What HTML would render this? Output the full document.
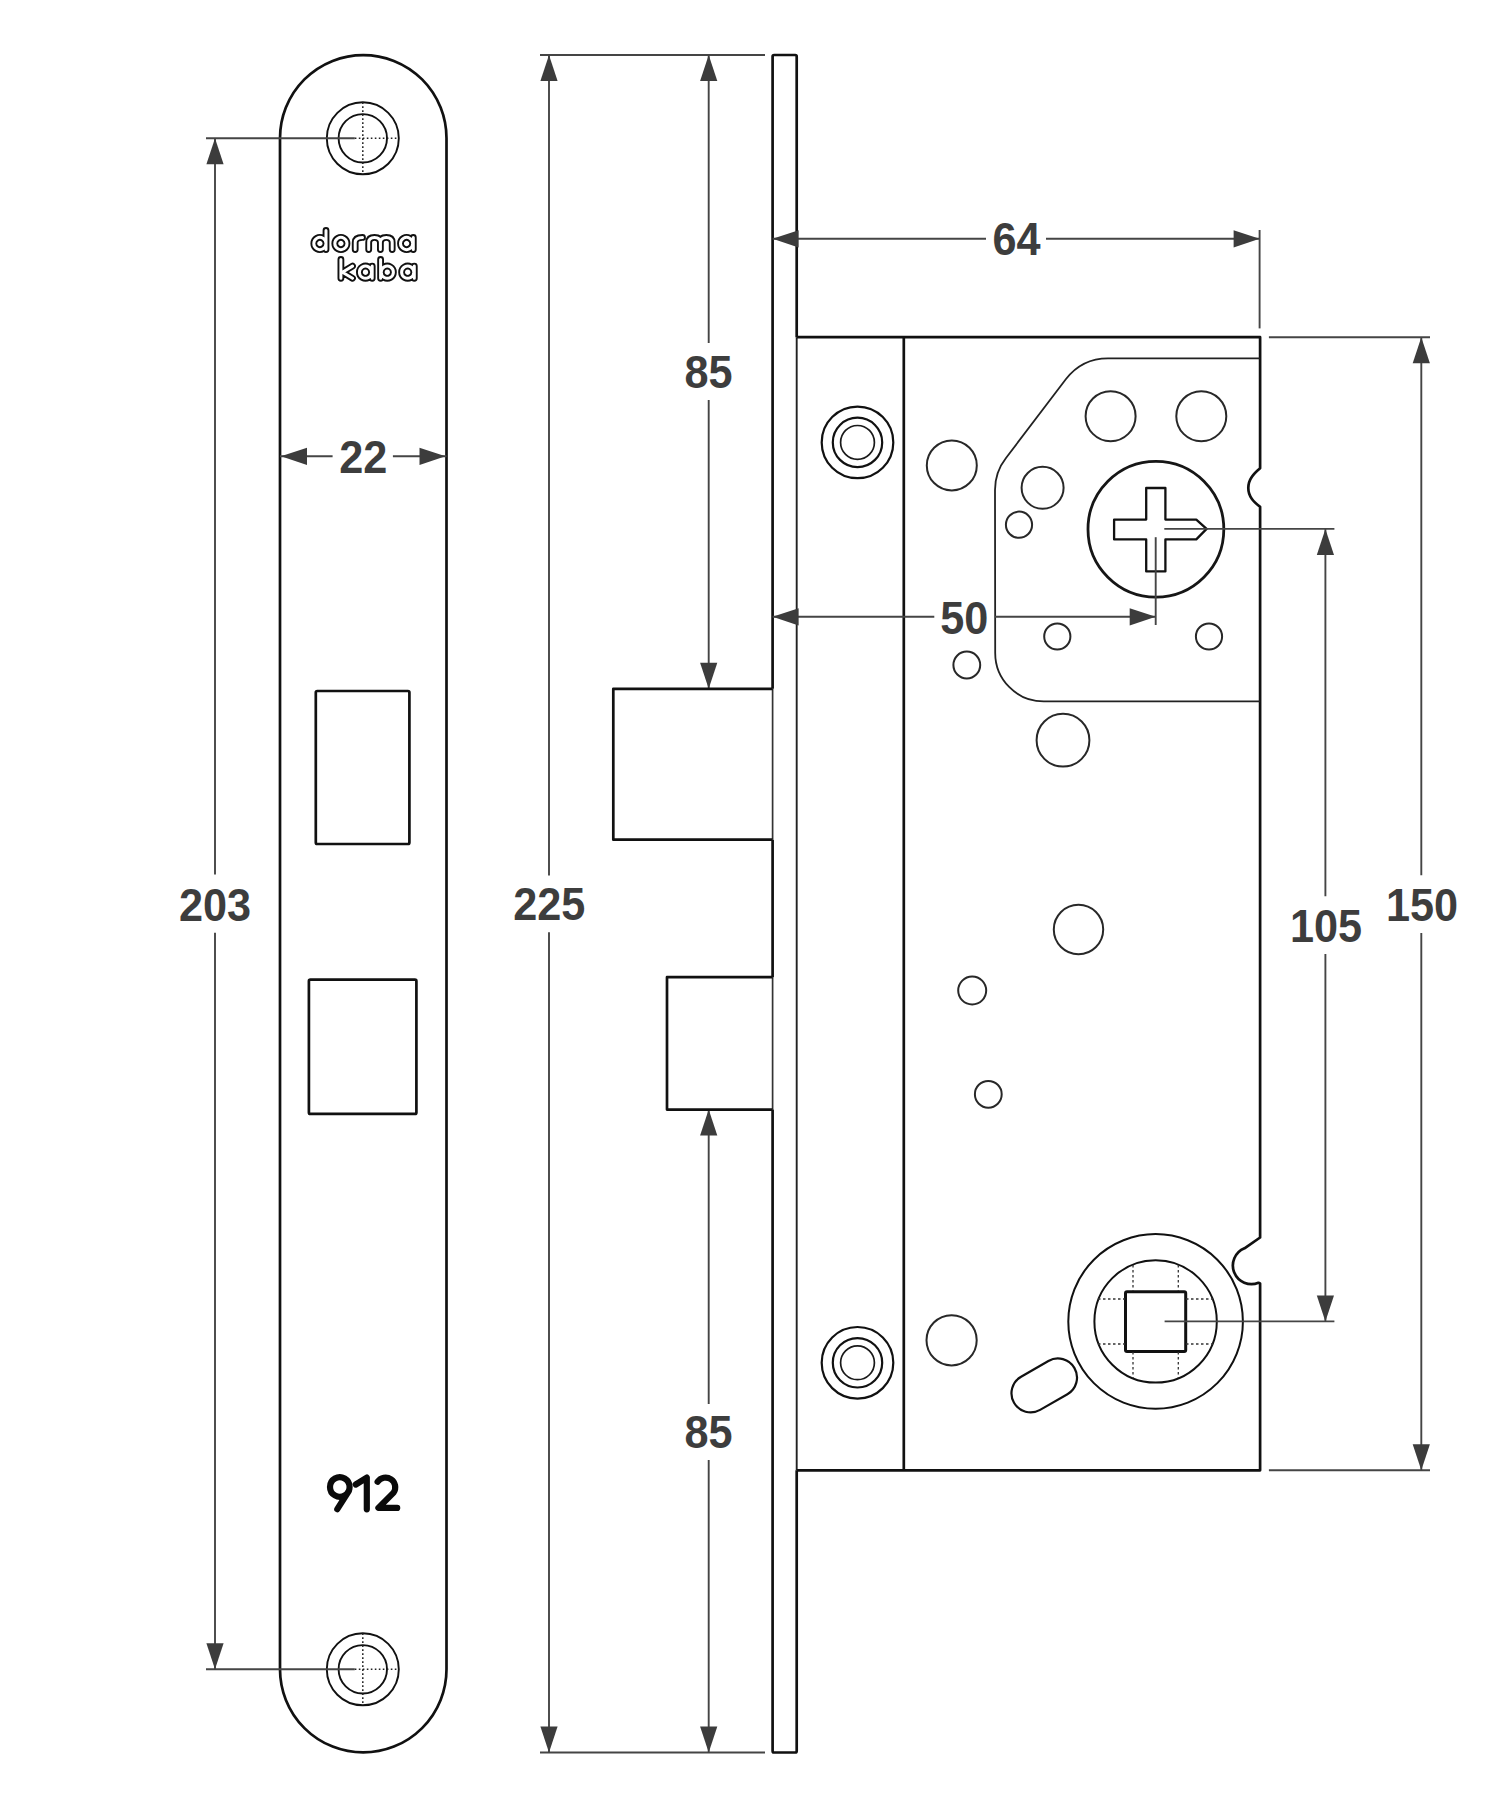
<!DOCTYPE html>
<html><head><meta charset="utf-8"><style>
html,body{margin:0;padding:0;background:#fff;}
svg{display:block;}
</style></head><body>
<svg width="1495" height="1800" viewBox="0 0 1495 1800">
<rect width="1495" height="1800" fill="#fff"/>
<path d="M280,138.25 A83.25,83.25 0 0 1 446.5,138.25 L446.5,1669.25 A83.25,83.25 0 0 1 280,1669.25 Z" fill="none" stroke="#111" stroke-width="2.7"/>
<circle cx="362.8" cy="138.3" r="36" fill="none" stroke="#111" stroke-width="1.9" />
<circle cx="362.8" cy="138.3" r="24.2" fill="none" stroke="#111" stroke-width="1.9" />
<line x1="362.8" y1="102.30000000000001" x2="362.8" y2="174.3" stroke="#222" stroke-width="1.5" stroke-dasharray="1.6,2.4"/>
<line x1="354.8" y1="138.3" x2="398.8" y2="138.3" stroke="#222" stroke-width="1.5" stroke-dasharray="1.6,2.4"/>
<line x1="206" y1="138.3" x2="354.8" y2="138.3" stroke="#454545" stroke-width="1.9" />
<circle cx="362.8" cy="1669.3" r="36" fill="none" stroke="#111" stroke-width="1.9" />
<circle cx="362.8" cy="1669.3" r="24.2" fill="none" stroke="#111" stroke-width="1.9" />
<line x1="362.8" y1="1633.3" x2="362.8" y2="1705.3" stroke="#222" stroke-width="1.5" stroke-dasharray="1.6,2.4"/>
<line x1="354.8" y1="1669.3" x2="398.8" y2="1669.3" stroke="#222" stroke-width="1.5" stroke-dasharray="1.6,2.4"/>
<line x1="206" y1="1669.3" x2="354.8" y2="1669.3" stroke="#454545" stroke-width="1.9" />
<rect x="315.8" y="691" width="93.6" height="153" rx="1.5" fill="none" stroke="#111" stroke-width="2.7"/>
<rect x="308.9" y="979.7" width="107.5" height="134.2" rx="1.5" fill="none" stroke="#111" stroke-width="2.7"/>
<line x1="215" y1="138.3" x2="215" y2="874.5" stroke="#454545" stroke-width="1.9" />
<line x1="215" y1="932.8" x2="215" y2="1669.3" stroke="#454545" stroke-width="1.9" />
<polygon points="215.0,138.3 206.4,164.3 223.6,164.3" fill="#3c3c3c"/>
<polygon points="215.0,1669.3 206.4,1643.3 223.6,1643.3" fill="#3c3c3c"/>
<text transform="translate(215,920.5) scale(0.93,1)" x="0" y="0" font-family="Liberation Sans, sans-serif" font-size="46.5" font-weight="bold" fill="#3d3d3d" text-anchor="middle" >203</text>
<line x1="280" y1="456.3" x2="332.6" y2="456.3" stroke="#454545" stroke-width="1.9" />
<line x1="392.9" y1="456.3" x2="446.5" y2="456.3" stroke="#454545" stroke-width="1.9" />
<polygon points="281.0,456.3 307.0,447.7 307.0,464.9" fill="#3c3c3c"/>
<polygon points="445.5,456.3 419.5,447.7 419.5,464.9" fill="#3c3c3c"/>
<text transform="translate(363.2,473.2) scale(0.93,1)" x="0" y="0" font-family="Liberation Sans, sans-serif" font-size="46.5" font-weight="bold" fill="#3d3d3d" text-anchor="middle" >22</text>
<path d="M326.0,243.5 A6.1,6.1 0 1 1 326.0,243.49 M326.0,230.5 L326.0,249.6 M347.0,243.5 A6.1,6.1 0 1 1 347.0,243.49 M355.2,249.6 L355.2,242.4 Q355.2,237.4 362.5,237.4 M368.7,249.6 L368.7,242.4 Q368.7,237.4 374.5,237.4 Q380.4,237.4 380.4,242.4 L380.4,249.6 M380.4,242.4 Q380.4,237.4 386.3,237.4 Q392.2,237.4 392.2,242.4 L392.2,249.6 M412.7,243.5 A6.1,6.1 0 1 1 412.7,243.49 M413.3,237.4 L413.3,249.6 M340.9,259.5 L340.9,278.3 M352.5,266.09999999999997 L342.5,272.2 L352.5,278.3 M371.6,272.2 A6.1,6.1 0 1 1 371.6,272.19 M372.2,266.09999999999997 L372.2,278.3 M393.4,272.2 A6.1,6.1 0 1 1 393.4,272.19 M380.6,259.5 L380.6,278.3 M413.8,272.2 A6.1,6.1 0 1 1 413.8,272.19 M414.3,266.09999999999997 L414.3,278.3" fill="none" stroke="#111" stroke-width="6.8" stroke-linecap="round" stroke-linejoin="round"/>
<path d="M326.0,243.5 A6.1,6.1 0 1 1 326.0,243.49 M326.0,230.5 L326.0,249.6 M347.0,243.5 A6.1,6.1 0 1 1 347.0,243.49 M355.2,249.6 L355.2,242.4 Q355.2,237.4 362.5,237.4 M368.7,249.6 L368.7,242.4 Q368.7,237.4 374.5,237.4 Q380.4,237.4 380.4,242.4 L380.4,249.6 M380.4,242.4 Q380.4,237.4 386.3,237.4 Q392.2,237.4 392.2,242.4 L392.2,249.6 M412.7,243.5 A6.1,6.1 0 1 1 412.7,243.49 M413.3,237.4 L413.3,249.6 M340.9,259.5 L340.9,278.3 M352.5,266.09999999999997 L342.5,272.2 L352.5,278.3 M371.6,272.2 A6.1,6.1 0 1 1 371.6,272.19 M372.2,266.09999999999997 L372.2,278.3 M393.4,272.2 A6.1,6.1 0 1 1 393.4,272.19 M380.6,259.5 L380.6,278.3 M413.8,272.2 A6.1,6.1 0 1 1 413.8,272.19 M414.3,266.09999999999997 L414.3,278.3" fill="none" stroke="#fff" stroke-width="3.0" stroke-linecap="round" stroke-linejoin="round"/>
<path d="M349.6,1487 A9.8,9.8 0 1 1 349.6,1486.9 M348.8,1491 L337.3,1509.2 M355.8,1484.5 L366.8,1477.6 L366.8,1509.3 M377.6,1481.8 A9.3,9.3 0 0 1 393.6,1492.6 L378.4,1507.9 L397.2,1507.9" fill="none" stroke="#0a0a0a" stroke-width="6.2" stroke-linecap="round" stroke-linejoin="round"/>
<path d="M772.6,688.8 L772.6,56.5 Q772.6,55 774.1,55 L795.2,55 Q796.7,55 796.7,56.5 L796.7,337.2 M796.7,1470.3 L796.7,1751 Q796.7,1752.5 795.2,1752.5 L774.1,1752.5 Q772.6,1752.5 772.6,1751 L772.6,1109.6 M772.6,839.7 L772.6,977.2" fill="none" stroke="#111" stroke-width="2.7"/>
<line x1="772.6" y1="688.8" x2="772.6" y2="839.7" stroke="#333" stroke-width="1.7" />
<line x1="772.6" y1="977.2" x2="772.6" y2="1109.6" stroke="#333" stroke-width="1.7" />
<line x1="796.7" y1="337.2" x2="796.7" y2="1470.3" stroke="#222" stroke-width="1.9" />
<line x1="540" y1="55" x2="765" y2="55" stroke="#454545" stroke-width="1.9" />
<line x1="540" y1="1752.5" x2="765" y2="1752.5" stroke="#454545" stroke-width="1.9" />
<line x1="549" y1="55" x2="549" y2="875.6" stroke="#454545" stroke-width="1.9" />
<line x1="549" y1="932.3" x2="549" y2="1752.5" stroke="#454545" stroke-width="1.9" />
<polygon points="549.0,55.0 540.4,81.0 557.6,81.0" fill="#3c3c3c"/>
<polygon points="549.0,1752.5 540.4,1726.5 557.6,1726.5" fill="#3c3c3c"/>
<text transform="translate(549.2,920.2) scale(0.93,1)" x="0" y="0" font-family="Liberation Sans, sans-serif" font-size="46.5" font-weight="bold" fill="#3d3d3d" text-anchor="middle" >225</text>
<line x1="708.7" y1="55" x2="708.7" y2="343" stroke="#454545" stroke-width="1.9" />
<line x1="708.7" y1="400" x2="708.7" y2="688.7" stroke="#454545" stroke-width="1.9" />
<polygon points="708.7,55.0 700.1,81.0 717.3,81.0" fill="#3c3c3c"/>
<polygon points="708.7,688.7 700.1,662.7 717.3,662.7" fill="#3c3c3c"/>
<text transform="translate(708.5,388.3) scale(0.93,1)" x="0" y="0" font-family="Liberation Sans, sans-serif" font-size="46.5" font-weight="bold" fill="#3d3d3d" text-anchor="middle" >85</text>
<line x1="708.7" y1="1109.5" x2="708.7" y2="1404" stroke="#454545" stroke-width="1.9" />
<line x1="708.7" y1="1460" x2="708.7" y2="1752.5" stroke="#454545" stroke-width="1.9" />
<polygon points="708.7,1109.5 700.1,1135.5 717.3,1135.5" fill="#3c3c3c"/>
<polygon points="708.7,1752.5 700.1,1726.5 717.3,1726.5" fill="#3c3c3c"/>
<text transform="translate(708.5,1448) scale(0.93,1)" x="0" y="0" font-family="Liberation Sans, sans-serif" font-size="46.5" font-weight="bold" fill="#3d3d3d" text-anchor="middle" >85</text>
<path d="M772.6,688.8 L613.3,688.8 L613.3,839.7 L772.6,839.7" fill="none" stroke="#111" stroke-width="2.7" stroke-linejoin="round"/>
<path d="M772.6,977.2 L667,977.2 L667,1109.6 L772.6,1109.6" fill="none" stroke="#111" stroke-width="2.7" stroke-linejoin="round"/>
<path d="M796.7,337.2 L1260.1,337.2 L1260.1,468.3 C1254,473.5 1248.3,479 1248.3,488 C1248.3,497 1254,502 1260.1,506.8 L1260.1,1237.5 L1244.5,1248.3 A18.6,18.6 0 0 0 1258.5,1282.8 L1260.1,1283.5 L1260.1,1470.3 L796.7,1470.3" fill="none" stroke="#111" stroke-width="2.7" stroke-linejoin="round"/>
<line x1="903.8" y1="337.2" x2="903.8" y2="1470.3" stroke="#111" stroke-width="2.7" />
<path d="M1260.1,358.3 L1108,358.3 Q1082,358.3 1066,379 L1006,458 Q995,472 995,490 L995.2,652.9 A48.5,48.5 0 0 0 1043.7,701.4 L1260.1,701.4" fill="none" stroke="#222" stroke-width="1.8"/>
<circle cx="857.5" cy="442.4" r="35.8" fill="none" stroke="#111" stroke-width="2.2" />
<circle cx="857.5" cy="442.4" r="24.7" fill="none" stroke="#111" stroke-width="2.2" />
<circle cx="857.5" cy="442.4" r="16.9" fill="none" stroke="#1a1a1a" stroke-width="1.7" />
<circle cx="857.5" cy="1362.8" r="35.8" fill="none" stroke="#111" stroke-width="2.2" />
<circle cx="857.5" cy="1362.8" r="24.7" fill="none" stroke="#111" stroke-width="2.2" />
<circle cx="857.5" cy="1362.8" r="16.9" fill="none" stroke="#1a1a1a" stroke-width="1.7" />
<circle cx="951.8" cy="465.4" r="25" fill="none" stroke="#282828" stroke-width="2.0" />
<circle cx="1110.6" cy="416.2" r="25" fill="none" stroke="#282828" stroke-width="2.0" />
<circle cx="1201.3" cy="416.2" r="25" fill="none" stroke="#282828" stroke-width="2.0" />
<circle cx="1042.6" cy="487.8" r="21" fill="none" stroke="#282828" stroke-width="2.0" />
<circle cx="1019" cy="524.7" r="13.1" fill="none" stroke="#282828" stroke-width="2.0" />
<circle cx="1057.3" cy="636.5" r="13.1" fill="none" stroke="#282828" stroke-width="2.0" />
<circle cx="1209" cy="636.5" r="13.1" fill="none" stroke="#282828" stroke-width="2.0" />
<circle cx="966.8" cy="665" r="13.4" fill="none" stroke="#282828" stroke-width="2.0" />
<circle cx="1063" cy="740.2" r="26.4" fill="none" stroke="#282828" stroke-width="2.0" />
<circle cx="1078.5" cy="929.5" r="24.7" fill="none" stroke="#282828" stroke-width="2.0" />
<circle cx="972.2" cy="990.5" r="14" fill="none" stroke="#282828" stroke-width="2.0" />
<circle cx="988.3" cy="1094.3" r="13.4" fill="none" stroke="#282828" stroke-width="2.0" />
<circle cx="951.6" cy="1340.3" r="25.1" fill="none" stroke="#282828" stroke-width="2.0" />
<circle cx="1155.9" cy="529.2" r="67.9" fill="none" stroke="#161616" stroke-width="2.8" />
<path d="M1146.2,488 L1165.4,488 L1165.4,519.6 L1196.3,519.6 L1206.6,528.9 L1196.3,539.4 L1165.4,539.4 L1165.4,571.4 L1146.2,571.4 L1146.2,539.4 L1114.1,539.4 L1114.1,519.6 L1146.2,519.6 Z" fill="none" stroke="#111" stroke-width="2.3" stroke-linejoin="round"/>
<circle cx="1155.6" cy="1321.4" r="87.3" fill="none" stroke="#111" stroke-width="2.0" />
<circle cx="1155.6" cy="1321.4" r="61.2" fill="none" stroke="#111" stroke-width="2.0" />
<rect x="1125.5" y="1291.7" width="60.2" height="59.9" rx="1.5" fill="none" stroke="#111" stroke-width="3"/>
<line x1="1133" y1="1265" x2="1133" y2="1291" stroke="#333" stroke-width="1.3" stroke-dasharray="2.5,2.5"/>
<line x1="1133" y1="1352" x2="1133" y2="1378" stroke="#333" stroke-width="1.3" stroke-dasharray="2.5,2.5"/>
<line x1="1178.3" y1="1265" x2="1178.3" y2="1291" stroke="#333" stroke-width="1.3" stroke-dasharray="2.5,2.5"/>
<line x1="1178.3" y1="1352" x2="1178.3" y2="1378" stroke="#333" stroke-width="1.3" stroke-dasharray="2.5,2.5"/>
<line x1="1098" y1="1299" x2="1125" y2="1299" stroke="#333" stroke-width="1.3" stroke-dasharray="2.5,2.5"/>
<line x1="1186" y1="1299" x2="1213" y2="1299" stroke="#333" stroke-width="1.3" stroke-dasharray="2.5,2.5"/>
<line x1="1098" y1="1344" x2="1125" y2="1344" stroke="#333" stroke-width="1.3" stroke-dasharray="2.5,2.5"/>
<line x1="1186" y1="1344" x2="1213" y2="1344" stroke="#333" stroke-width="1.3" stroke-dasharray="2.5,2.5"/>
<path d="M1040.1,1409.9 L1067.4,1394.2 A19.1,19.1 0 0 0 1048.4,1361.0 L1021.1,1376.7 A19.1,19.1 0 0 0 1040.1,1409.9 Z" fill="none" stroke="#111" stroke-width="2.2"/>
<line x1="772.6" y1="238.8" x2="986" y2="238.8" stroke="#454545" stroke-width="1.9" />
<line x1="1046" y1="238.8" x2="1259.6" y2="238.8" stroke="#454545" stroke-width="1.9" />
<polygon points="772.6,238.8 798.6,230.2 798.6,247.4" fill="#3c3c3c"/>
<polygon points="1259.6,238.8 1233.6,230.2 1233.6,247.4" fill="#3c3c3c"/>
<line x1="1259.6" y1="230" x2="1259.6" y2="328.4" stroke="#454545" stroke-width="1.9" />
<text transform="translate(1016.5,255.3) scale(0.93,1)" x="0" y="0" font-family="Liberation Sans, sans-serif" font-size="46.5" font-weight="bold" fill="#3d3d3d" text-anchor="middle" >64</text>
<line x1="772.6" y1="616.8" x2="934.3" y2="616.8" stroke="#454545" stroke-width="1.9" />
<line x1="995" y1="616.8" x2="1155.7" y2="616.8" stroke="#454545" stroke-width="1.9" />
<polygon points="772.6,616.8 798.6,608.2 798.6,625.4" fill="#3c3c3c"/>
<polygon points="1155.7,616.8 1129.7,608.2 1129.7,625.4" fill="#3c3c3c"/>
<line x1="1155.7" y1="537.2" x2="1155.7" y2="625" stroke="#454545" stroke-width="1.9" />
<text transform="translate(964.3,633.5) scale(0.93,1)" x="0" y="0" font-family="Liberation Sans, sans-serif" font-size="46.5" font-weight="bold" fill="#3d3d3d" text-anchor="middle" >50</text>
<line x1="1268.9" y1="337.2" x2="1430" y2="337.2" stroke="#454545" stroke-width="1.9" />
<line x1="1268.9" y1="1470.3" x2="1430" y2="1470.3" stroke="#454545" stroke-width="1.9" />
<line x1="1421.3" y1="337.2" x2="1421.3" y2="875.3" stroke="#454545" stroke-width="1.9" />
<line x1="1421.3" y1="932.9" x2="1421.3" y2="1470.3" stroke="#454545" stroke-width="1.9" />
<polygon points="1421.3,337.2 1412.7,363.2 1429.9,363.2" fill="#3c3c3c"/>
<polygon points="1421.3,1470.3 1412.7,1444.3 1429.9,1444.3" fill="#3c3c3c"/>
<text transform="translate(1422,921) scale(0.93,1)" x="0" y="0" font-family="Liberation Sans, sans-serif" font-size="46.5" font-weight="bold" fill="#3d3d3d" text-anchor="middle" >150</text>
<line x1="1164.3" y1="528.9" x2="1334.4" y2="528.9" stroke="#454545" stroke-width="1.9" />
<line x1="1164.6" y1="1321.4" x2="1334.4" y2="1321.4" stroke="#454545" stroke-width="1.9" />
<line x1="1325.4" y1="528.9" x2="1325.4" y2="896.3" stroke="#454545" stroke-width="1.9" />
<line x1="1325.4" y1="954" x2="1325.4" y2="1321.4" stroke="#454545" stroke-width="1.9" />
<polygon points="1325.4,528.9 1316.8,554.9 1334.0,554.9" fill="#3c3c3c"/>
<polygon points="1325.4,1321.4 1316.8,1295.4 1334.0,1295.4" fill="#3c3c3c"/>
<text transform="translate(1326,942) scale(0.93,1)" x="0" y="0" font-family="Liberation Sans, sans-serif" font-size="46.5" font-weight="bold" fill="#3d3d3d" text-anchor="middle" >105</text>
</svg>
</body></html>
